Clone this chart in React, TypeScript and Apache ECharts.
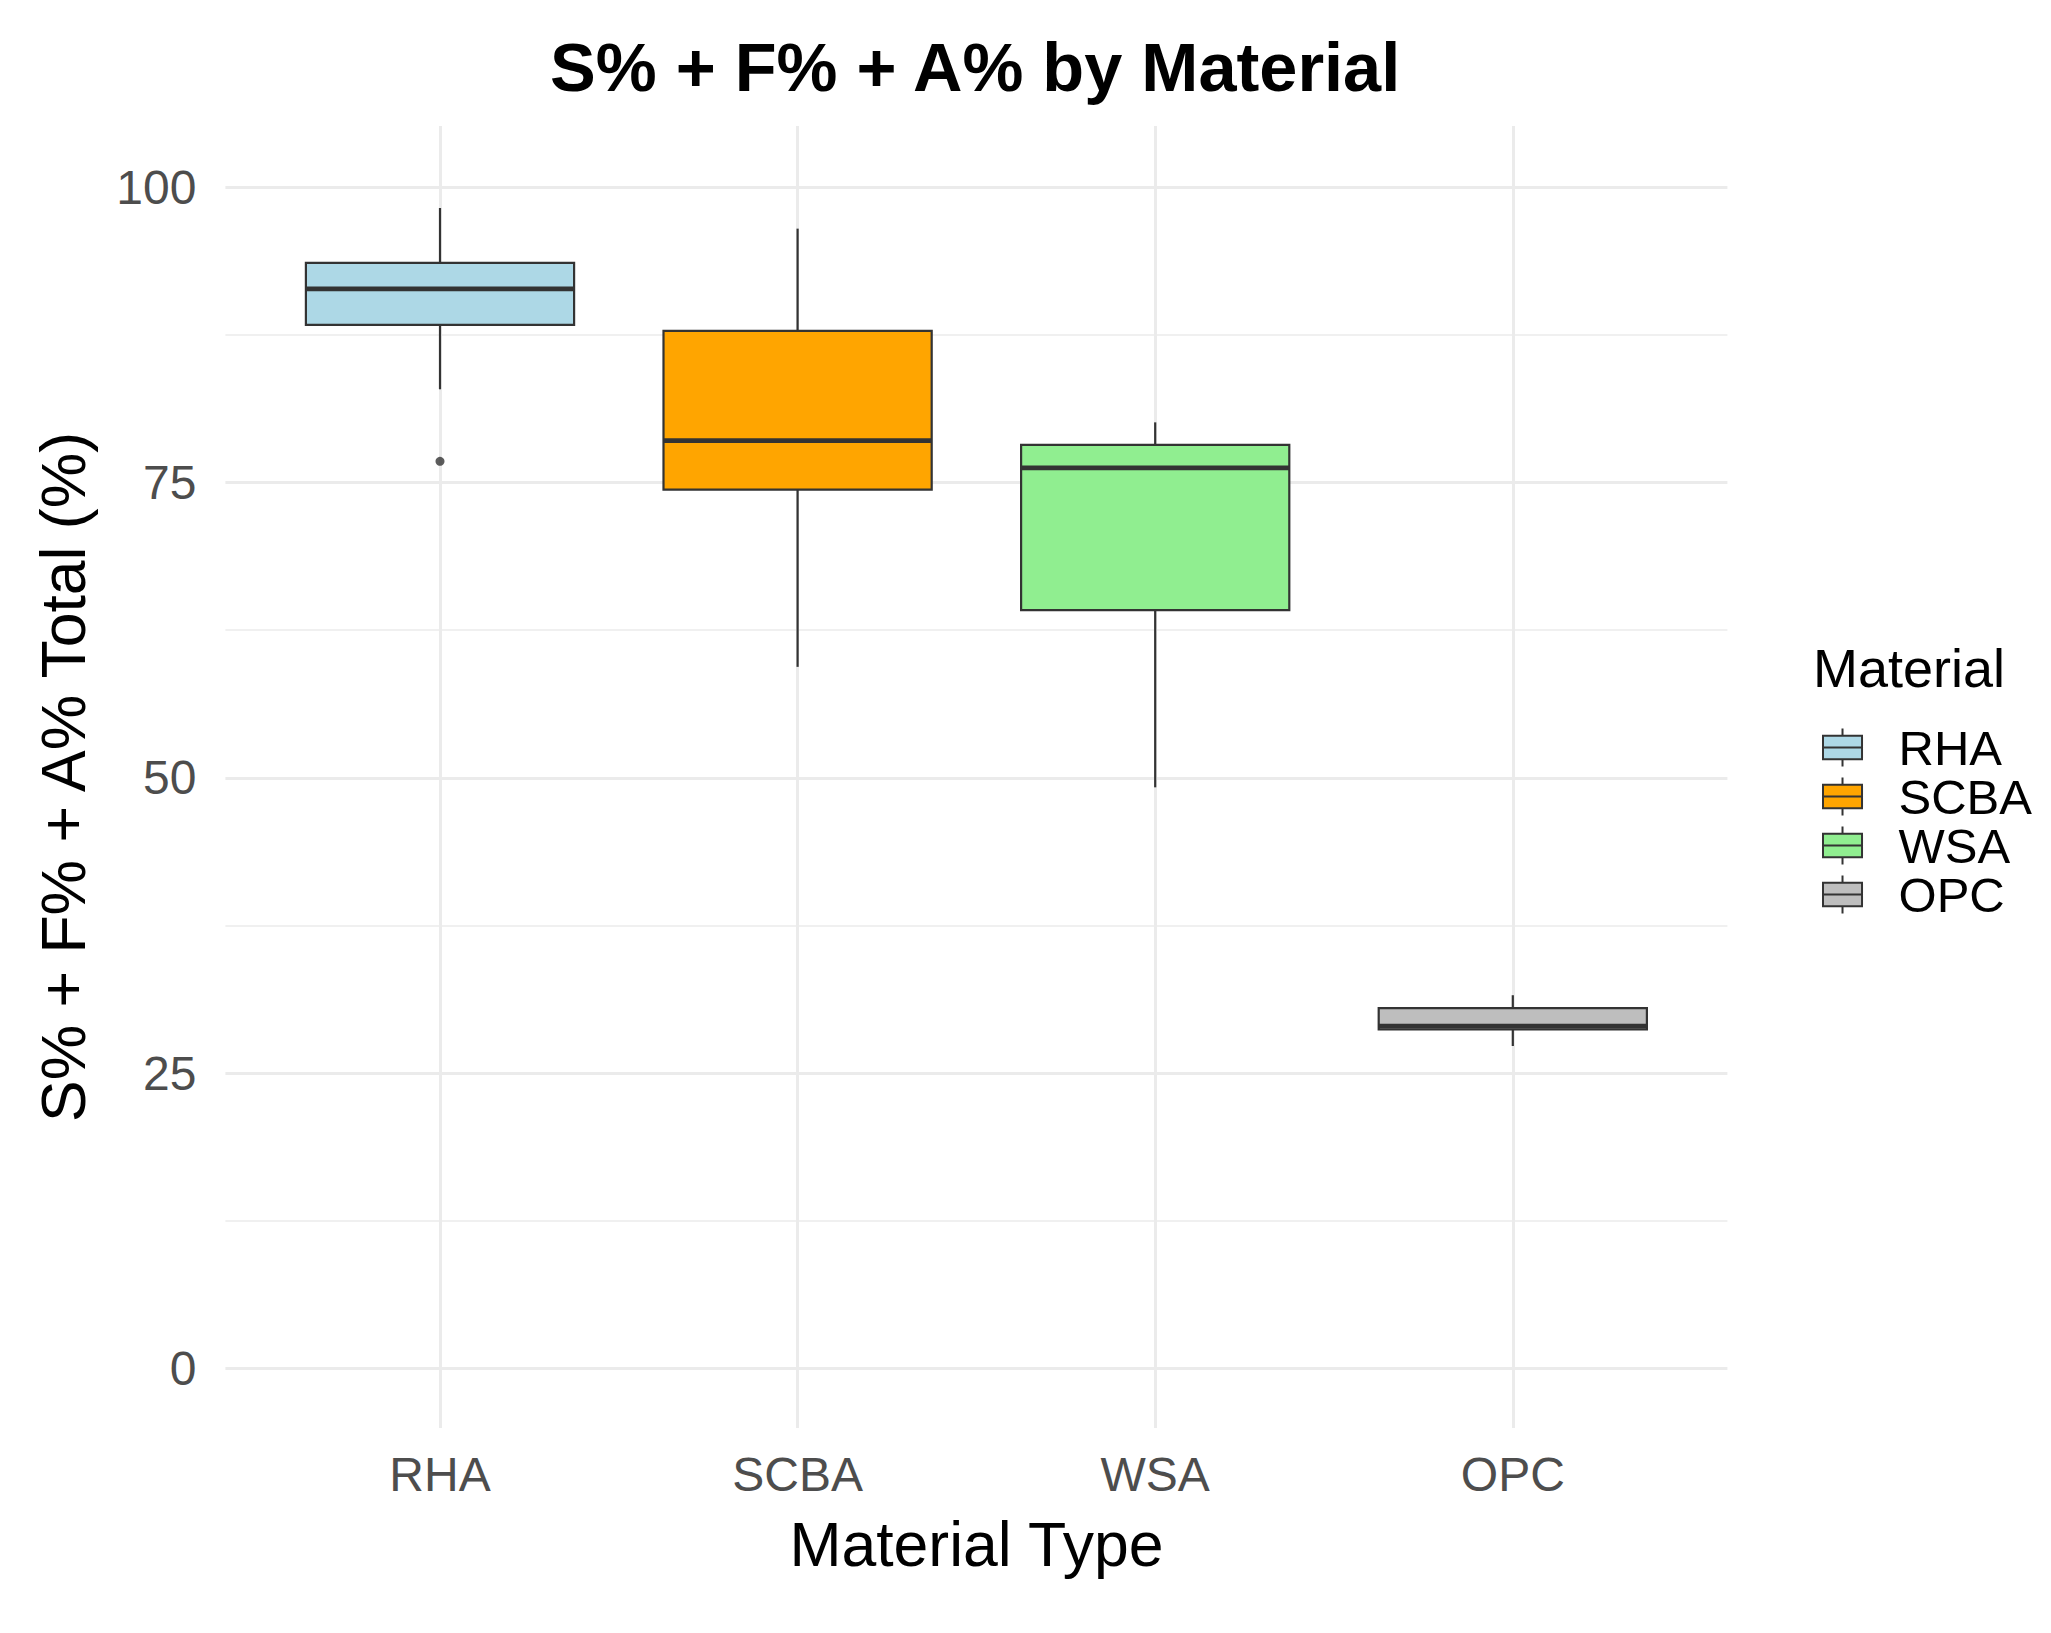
import React, { useEffect, useRef } from "react";
import * as echarts from "echarts";

const MATERIALS = ["RHA", "SCBA", "WSA", "OPC"];
const FILL_COLORS = ["#ADD8E6", "#FFA500", "#90EE90", "#BEBEBE"];
const WHISKER_LOW = [82.9, 59.4, 49.2, 27.3];
const Q1 = [88.35, 74.4, 64.2, 28.7];
const MEDIAN = [91.4, 78.55, 76.25, 29.0];
const Q3 = [93.6, 87.85, 78.2, 30.5];
const WHISKER_HIGH = [98.25, 96.5, 80.1, 31.6];
const OUTLIERS: [number, number][] = [[0, 76.8]];
const Y_MAJOR = [0, 25, 50, 75, 100];
const Y_MINOR = [12.5, 37.5, 62.5, 87.5];
const Y_MIN = -5.04;
const Y_MAX = 105.19;

const FONT = "Liberation Sans, Arial, sans-serif";
const EDGE = "#333333";
const GRID = "#EBEBEB";
const LEGEND_ICON =
  "path://M20,0L20,7M1,7L39,7L39,30L1,30ZM1,18.5L39,18.5M20,30L20,37";

function makeRender(color: string) {
  return (params: any, api: any) => {
    const idx = api.value(0);
    const lo = api.coord([idx, api.value(1)]);
    const q1 = api.coord([idx, api.value(2)]);
    const med = api.coord([idx, api.value(3)]);
    const q3 = api.coord([idx, api.value(4)]);
    const hi = api.coord([idx, api.value(5)]);
    const bw = api.size([1, 0])[0] * 0.75;
    const x = q1[0];
    return {
      type: "group",
      children: [
        {
          type: "line",
          shape: { x1: x, y1: hi[1], x2: x, y2: q3[1] },
          style: { stroke: EDGE, lineWidth: 2.2 },
        },
        {
          type: "line",
          shape: { x1: x, y1: q1[1], x2: x, y2: lo[1] },
          style: { stroke: EDGE, lineWidth: 2.2 },
        },
        {
          type: "rect",
          shape: { x: x - bw / 2, y: q3[1], width: bw, height: q1[1] - q3[1] },
          style: { fill: color, stroke: EDGE, lineWidth: 2.2 },
        },
        {
          type: "line",
          shape: { x1: x - bw / 2, y1: med[1], x2: x + bw / 2, y2: med[1] },
          style: { stroke: EDGE, lineWidth: 4.6 },
        },
      ],
    };
  };
}

export default function App() {
  const ref = useRef<HTMLDivElement>(null);
  useEffect(() => {
    document.body.style.margin = "0";
    if (!ref.current) return;
    const chart = echarts.init(ref.current, undefined, { renderer: "svg" });

    const boxSeries = MATERIALS.map((m, i) => ({
      type: "custom",
      name: m,
      xAxisIndex: 1,
      yAxisIndex: 2,
      itemStyle: { color: FILL_COLORS[i], borderColor: EDGE },
      encode: { x: 0, y: [1, 2, 3, 4, 5] },
      data: [[i, WHISKER_LOW[i], Q1[i], MEDIAN[i], Q3[i], WHISKER_HIGH[i]]],
      renderItem: makeRender(FILL_COLORS[i]),
      silent: true,
      z: 3,
    }));

    const option: any = {
      animation: false,
      backgroundColor: "#FFFFFF",
      title: [
        {
          text: "S% + F% + A% by Material",
          left: 545,
          top: 28,
          textStyle: {
            fontFamily: FONT,
            fontSize: 68.5,
            fontWeight: "bold",
            color: "#000000",
          },
        },
        {
          text: "Material",
          left: 1808,
          top: 636,
          textStyle: {
            fontFamily: FONT,
            fontSize: 54,
            fontWeight: "normal",
            color: "#000000",
          },
        },
      ],
      legend: {
        orient: "vertical",
        left: 1817,
        top: 718,
        itemWidth: 40,
        itemHeight: 38,
        itemGap: 0,
        selectedMode: false,
        textStyle: {
          fontFamily: FONT,
          fontSize: 49,
          color: "#000000",
          padding: [0, 0, 0, 31],
        },
        data: MATERIALS.map((m, i) => ({
          name: m,
          icon: LEGEND_ICON,
          itemStyle: { color: FILL_COLORS[i], borderColor: EDGE, borderWidth: 2 },
        })),
      },
      grid: [
        { left: 225.4, top: 126, width: 1502, height: 1302, containLabel: false },
        { left: 440, top: 126, width: 1072.8, height: 1302, containLabel: false },
      ],
      xAxis: [
        { gridIndex: 0, type: "value", min: 0, max: 1, show: false },
        {
          gridIndex: 1,
          type: "category",
          data: MATERIALS,
          boundaryGap: false,
          axisLine: { show: false },
          axisTick: { show: false },
          axisLabel: {
            fontFamily: FONT,
            fontSize: 48,
            color: "#4D4D4D",
            margin: 22,
          },
          splitLine: { show: true, lineStyle: { color: GRID, width: 3 } },
          name: "Material Type",
          nameLocation: "middle",
          nameGap: 84,
          nameTextStyle: { fontFamily: FONT, fontSize: 62.5, color: "#000000" },
        },
      ],
      yAxis: [
        {
          gridIndex: 0,
          type: "value",
          min: Y_MIN,
          max: Y_MAX,
          axisLine: { show: false },
          axisTick: { show: false, customValues: Y_MAJOR },
          axisLabel: {
            customValues: Y_MAJOR,
            fontFamily: FONT,
            fontSize: 48,
            color: "#4D4D4D",
            margin: 29,
          },
          splitLine: { show: true, lineStyle: { color: GRID, width: 3 } },
          name: "S% + F% + A% Total (%)",
          nameLocation: "middle",
          nameGap: 130.8,
          nameTextStyle: { fontFamily: FONT, fontSize: 62.5, color: "#000000" },
        },
        {
          gridIndex: 0,
          type: "value",
          min: Y_MIN,
          max: Y_MAX,
          axisLine: { show: false },
          axisTick: { show: false, customValues: Y_MINOR },
          axisLabel: { show: false, customValues: Y_MINOR },
          splitLine: { show: true, lineStyle: { color: GRID, width: 1.6 } },
        },
        { gridIndex: 1, type: "value", min: Y_MIN, max: Y_MAX, show: false },
      ],
      series: [
        ...boxSeries,
        {
          type: "scatter",
          name: "outliers",
          xAxisIndex: 1,
          yAxisIndex: 2,
          symbol: "circle",
          symbolSize: 9,
          itemStyle: { color: EDGE },
          data: OUTLIERS,
          silent: true,
          z: 4,
        },
      ],
    };
    chart.setOption(option);
    return () => chart.dispose();
  }, []);
  return <div ref={ref} style={{ width: 2051, height: 1633 }} />;
}
